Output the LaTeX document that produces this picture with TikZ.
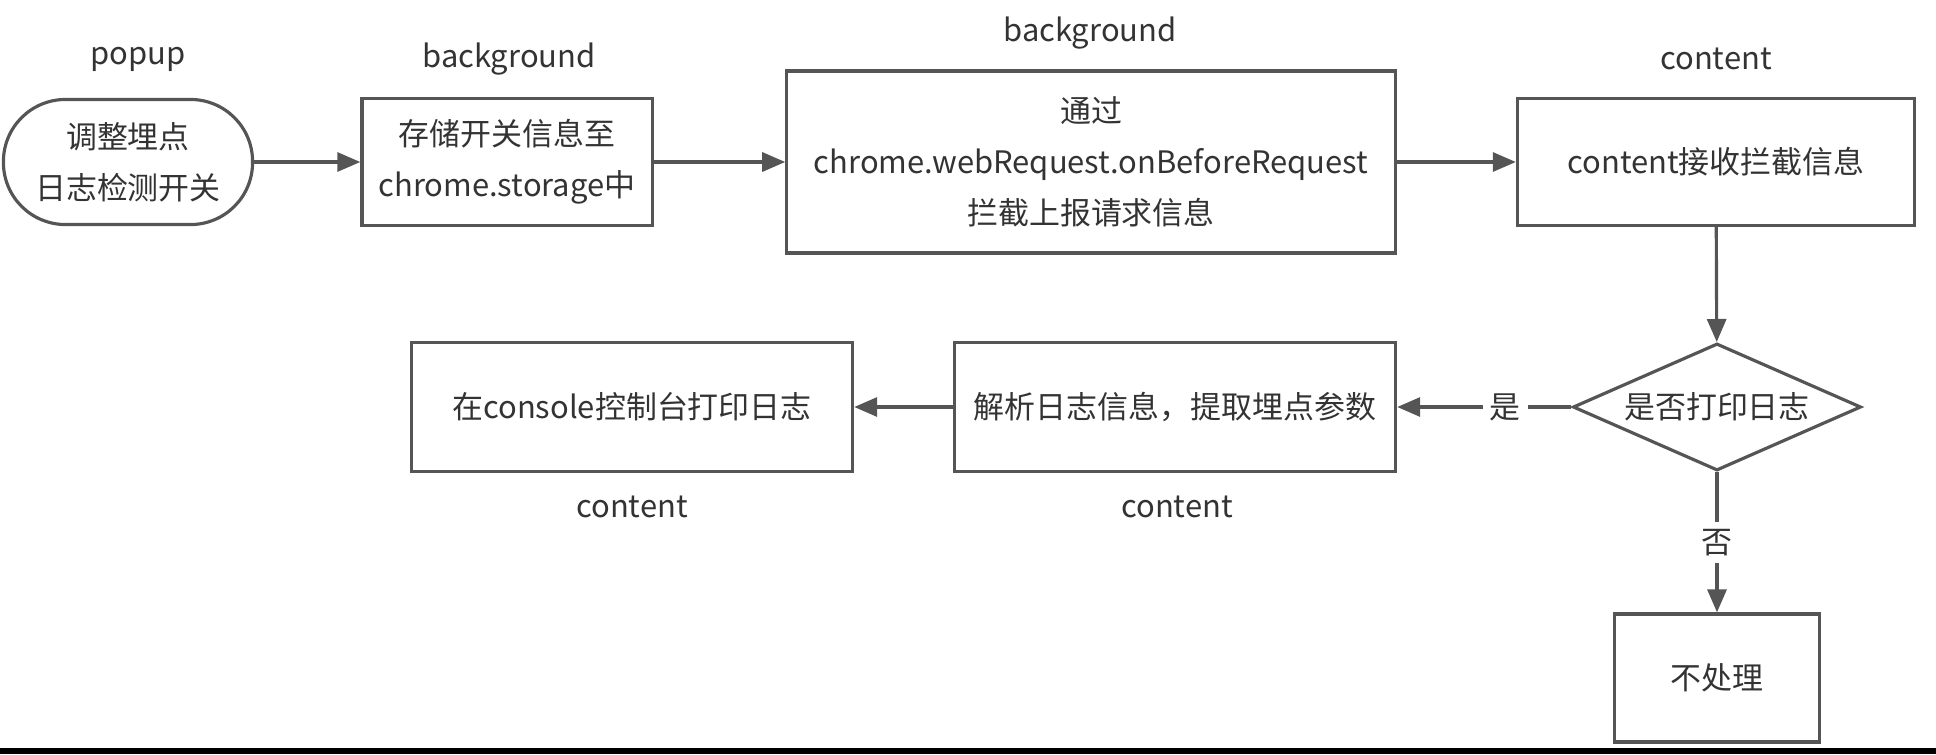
\documentclass[tikz,border=0pt]{standalone}
\usepackage{fontspec}
\setmainfont{Noto Sans CJK SC}
\usepackage{xcolor}
\usepackage{tikz}
\usetikzlibrary{arrows.meta, positioning}
\usetikzlibrary{shapes.geometric}

\definecolor{linegray}{HTML}{555555}
\definecolor{textgray}{HTML}{333333}

\begin{document}
\begin{tikzpicture}[x=0.01cm, y=-0.01cm,
    every node/.style={text=textgray, font=\fontsize{8.8}{14.5}\selectfont},
    proc/.style={draw=linegray, line width=0.9pt, rectangle, align=center, inner sep=0pt},
    term/.style={proc, rounded corners=0.62cm},
    choice/.style={draw=linegray, line width=0.9pt, diamond, aspect=2.27, inner sep=0pt,
        minimum width=2.88cm, minimum height=1.27cm},
    role/.style={inner sep=0pt},
    flow/.style={draw=linegray, line width=0.9pt, -{Triangle[length=0.23cm, width=0.19cm]}},
    tag/.style={fill=white, inner sep=2pt}]
        \useasboundingbox (0,0) rectangle (1936,754);

        % top row
        \node[term, minimum width=2.49cm, minimum height=1.25cm] (adjust) at (128,162) {调整埋点\\日志检测开关};
        \node[proc, minimum width=2.9cm, minimum height=1.27cm] (store) at (507,162) {存储开关信息至\\chrome.storage中};
        \node[proc, minimum width=6.08cm, minimum height=1.82cm] (intercept) at (1091,162) {通过\\chrome.webRequest.onBeforeRequest\\拦截上报请求信息};
        \node[proc, minimum width=3.97cm, minimum height=1.27cm] (receive) at (1716,162) {content接收拦截信息};

        % decision and second row
        \node[choice] (logq) at (1717,407) {是否打印日志};
        \node[proc, minimum width=4.41cm, minimum height=1.29cm] (parse) at (1175,407) {解析日志信息，提取埋点参数};
        \node[proc, minimum width=4.41cm, minimum height=1.29cm] (print) at (632,407) {在console控制台打印日志};
        \node[proc, minimum width=2.05cm, minimum height=1.28cm] (skip) at (1717,678) {不处理};

        % where each step runs
        \node[role] (popupL) at (138,59) {popup};
        \node[role] (bgL) at (509,59) {background};
        \node[role] (bgR) at (1090,33) {background};
        \node[role] (ctTop) at (1716,59) {content};
        \node[role] (ctParse) at (1177,507) {content};
        \node[role] (ctPrint) at (632,507) {content};

        % flow
        \draw[flow] (adjust) -- (store);
        \draw[flow] (store) -- (intercept);
        \draw[flow] (intercept) -- (receive);
        \draw[flow] (receive) -- (logq);
        \draw[flow] (logq) -- node[tag, pos=0.38] {是} (parse);
        \draw[flow] (parse) -- (print);
        \draw[flow] (logq) -- node[tag] {否} (skip);

        % bar along the bottom edge
        \fill[black] (0,748) rectangle (1936,754);
    \end{tikzpicture}
\end{document}
